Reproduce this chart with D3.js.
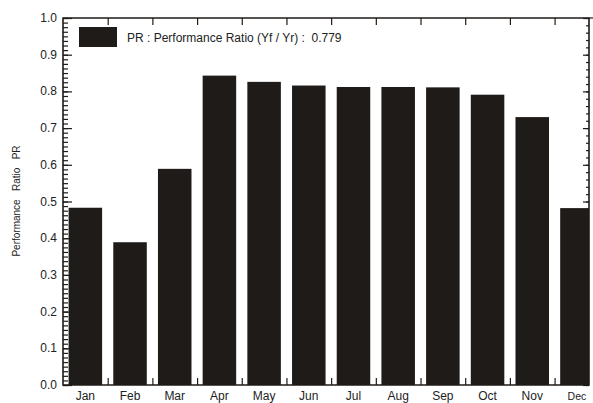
<!DOCTYPE html>
<html>
<head>
<meta charset="utf-8">
<script src="https://cdn.jsdelivr.net/npm/d3@7"></script>
<style>
	body { margin: 0; background: #fff; }
	text { font-family: Arial, "Liberation Sans", sans-serif; fill: #222; }
</style>
</head>
<body>
<svg id="chart" width="593" height="403"></svg>
<script>
const months = ['Jan', 'Feb', 'Mar', 'Apr', 'May', 'Jun', 'Jul', 'Aug', 'Sep', 'Oct', 'Nov', 'Dec'];
const prValues = [0.483, 0.389, 0.589, 0.843, 0.826, 0.816, 0.812, 0.812, 0.811, 0.791, 0.730, 0.482];
const yTicks = [0.0, 0.1, 0.2, 0.3, 0.4, 0.5, 0.6, 0.7, 0.8, 0.9, 1.0];
const legendLabel = 'PR : Performance Ratio (Yf / Yr) :  0.779';
const yTitle = 'Performance   Ratio   PR';

const plotLeft = 63, plotRight = 589, plotTop = 18, plotBottom = 385;
const ink = '#1f1b19';

const svg = d3.select('#chart');

// months sit in slots of ~44.7px, the last slot is cut by the right axis
const x = d3.scaleLinear()
	.domain([0, 11.77])
	.range([plotLeft, plotRight]);

const y = d3.scaleLinear()
	.domain([0, 1])
	.range([plotBottom, plotTop]);

svg.append('clipPath').attr('id', 'plot-clip')
	.append('rect')
	.attr('x', plotLeft).attr('y', plotTop)
	.attr('width', plotRight - plotLeft).attr('height', plotBottom - plotTop);

svg.append('g')
	.attr('clip-path', 'url(#plot-clip)')
	.selectAll('rect')
	.data(prValues)
	.enter().append('rect')
	.attr('x', (d, i) => x(i + 0.125))
	.attr('width', x(0.75) - x(0))
	.attr('y', d => y(d))
	.attr('height', d => y(0) - y(d))
	.attr('fill', ink);

// left axis: dense minor ticks inward
const leftMinor = d3.range(0, 1.0001, 0.0125);
svg.append('g')
	.attr('transform', `translate(${plotLeft},0)`)
	.call(d3.axisRight(y).tickValues(leftMinor).tickSize(5).tickFormat(''))
	.call(g => g.select('.domain').remove());

svg.append('g')
	.attr('transform', `translate(${plotLeft},0)`)
	.call(d3.axisRight(y).tickValues(yTicks).tickSize(9).tickFormat(''))
	.call(g => g.select('.domain').remove());

svg.append('g')
	.selectAll('text')
	.data(yTicks)
	.enter().append('text')
	.attr('x', plotLeft - 6)
	.attr('y', d => y(d) + 4)
	.attr('text-anchor', 'end')
	.attr('font-size', 12)
	.text(d => d3.format('.1f')(d));

// right axis: minor every 0.02, pointing inward
svg.append('g')
	.attr('transform', `translate(${plotRight},0)`)
	.call(d3.axisLeft(y).tickValues(d3.range(0, 1.0001, 0.02)).tickSize(3).tickFormat(''))
	.call(g => g.select('.domain').remove());

svg.append('g')
	.attr('transform', `translate(${plotRight},0)`)
	.call(d3.axisLeft(y).tickValues(yTicks).tickSize(6).tickFormat(''))
	.call(g => g.select('.domain').remove());

// top and bottom axes: ticks at month boundaries
const boundaries = d3.range(1, 12);
svg.append('g')
	.attr('transform', `translate(0,${plotTop})`)
	.call(d3.axisBottom(x).tickValues(boundaries).tickSize(7).tickFormat(''))
	.call(g => g.select('.domain').remove());

svg.append('g')
	.attr('transform', `translate(0,${plotBottom})`)
	.call(d3.axisTop(x).tickValues(boundaries).tickSize(7).tickFormat(''))
	.call(g => g.select('.domain').remove());

svg.selectAll('.tick line').attr('stroke', ink).attr('stroke-width', 1.2);

// frame
svg.append('path')
	.attr('d', `M${plotLeft},${plotBottom}H${plotRight}V${plotTop}H${plotLeft}Z`)
	.attr('fill', 'none')
	.attr('stroke', ink)
	.attr('stroke-width', 1.6);
svg.append('line')
	.attr('x1', plotRight).attr('x2', 593)
	.attr('y1', plotTop).attr('y2', plotTop)
	.attr('stroke', ink).attr('stroke-width', 1.2);

// month labels
svg.append('g')
	.selectAll('text')
	.data(months)
	.enter().append('text')
	.attr('x', (d, i) => x(i + 0.5))
	.attr('y', 400)
	.attr('text-anchor', 'middle')
	.attr('font-size', d => d === 'Dec' ? 10.5 : 12)
	.text(d => d);

// y title
svg.append('text')
	.attr('transform', 'translate(20,201) rotate(-90)')
	.attr('text-anchor', 'middle')
	.attr('font-size', 10)
	.style('white-space', 'pre')
	.text(yTitle);

// legend
svg.append('rect')
	.attr('x', 79).attr('y', 27)
	.attr('width', 38).attr('height', 20)
	.attr('fill', ink);

svg.append('text')
	.attr('x', 127)
	.attr('y', 42)
	.attr('font-size', 12)
	.style('white-space', 'pre')
	.text(legendLabel);
</script>
</body>
</html>
